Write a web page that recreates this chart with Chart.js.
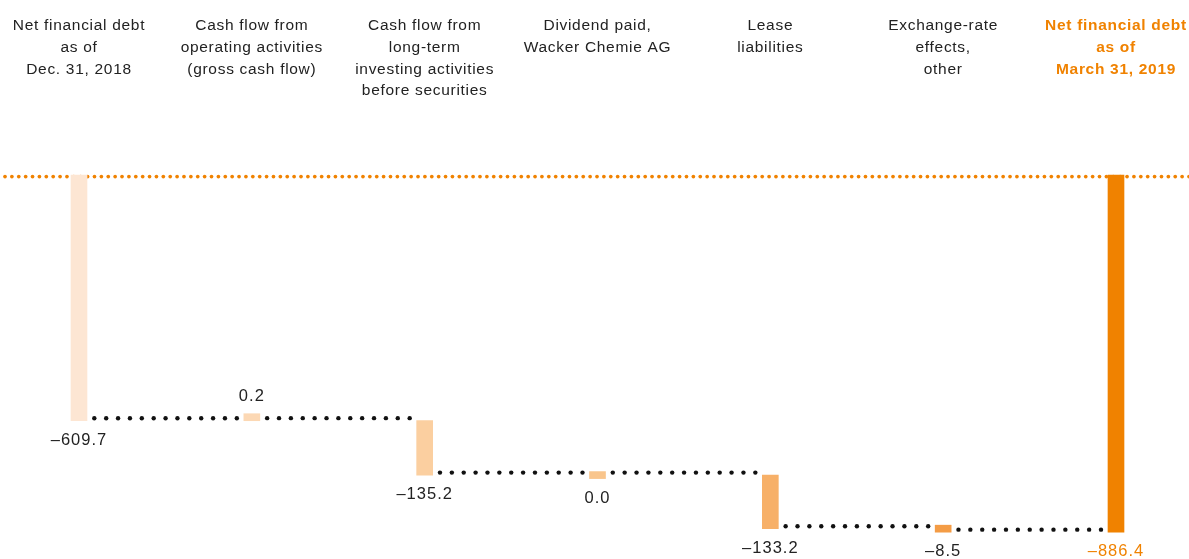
<!DOCTYPE html>
<html>
<head>
<meta charset="utf-8">
<script src="https://cdn.jsdelivr.net/npm/chart.js@4/dist/chart.umd.min.js"></script>
<style>
  html, body { margin: 0; padding: 0; background: #fff; }
</style>
</head>
<body>
<canvas data-grafico width="1189" height="559"></canvas>
<script>
// categories (header labels, one array per column)
const categories = [
  ['Net financial debt', 'as of', 'Dec. 31, 2018'],
  ['Cash flow from', 'operating activities', '(gross cash flow)'],
  ['Cash flow from', 'long-term', 'investing activities', 'before securities'],
  ['Dividend paid,', 'Wacker Chemie AG'],
  ['Lease', 'liabilities'],
  ['Exchange-rate', 'effects,', 'other'],
  ['Net financial debt', 'as of', 'March 31, 2019']
];

// € million, totals start at zero, the others are changes
const values = [-609.7, 0.2, -135.2, 0.0, -133.2, -8.5, -886.4];
const isTotal = [true, false, false, false, false, false, true];

const barColors = ['#fde6d3', '#fcd8b4', '#fbcfa0', '#f9c58c', '#f7b068', '#f49c45', '#f08200'];
const orange = '#f08200';
const textColor = '#222222';

// waterfall: each bar goes from its lower end (base) up to its upper end
const bases = [];
const tops = [];
const levels = [];
let running = 0;
values.forEach((v, i) => {
  const start = isTotal[i] ? 0 : running;
  const end = isTotal[i] ? v : running + v;
  bases.push(Math.min(start, end));
  tops.push(Math.max(start, end));
  running = end;
  levels.push(running);
});

function dotRow(ctx, x0, x1, y, step, size, color) {
  const n = Math.max(1, Math.round((x1 - x0) / step));
  const s = (x1 - x0) / n;
  ctx.fillStyle = color;
  for (let i = 0; i <= n; i++) {
    ctx.beginPath();
    ctx.arc(x0 + i * s, y, size / 2, 0, Math.PI * 2);
    ctx.fill();
  }
}

// the bar of column i lives in dataset i
function barAt(chart, i) {
  return chart.getDatasetMeta(i).data[i];
}

const spacing = {
  id: 'spacing',
  beforeUpdate(chart) { chart.ctx.letterSpacing = '0.7px'; },
  beforeDraw(chart) { chart.ctx.letterSpacing = '0.7px'; }
};

// orange dotted zero line behind the bars
const zeroLine = {
  id: 'zeroLine',
  beforeDatasetsDraw(chart) {
    const ctx = chart.ctx;
    const y = chart.scales.y.getPixelForValue(0) + 1.5;
    ctx.save();
    dotRow(ctx, 5, chart.width, y, 6.9, 3.7, orange);
    ctx.restore();
  }
};

// black dotted connectors + value labels
const connectors = {
  id: 'connectors',
  afterDatasetsDraw(chart) {
    const ctx = chart.ctx;
    const yScale = chart.scales.y;
    ctx.save();
    for (let i = 0; i < values.length - 1; i++) {
      const a = barAt(chart, i), b = barAt(chart, i + 1);
      const x0 = a.x + a.width / 2 + 7.3;
      const x1 = b.x - b.width / 2 - 7;
      const y = yScale.getPixelForValue(levels[i]) - 2.5;
      dotRow(ctx, x0, x1, y, 12.2, 4.4, '#111111');
    }

    ctx.letterSpacing = '1px';
    ctx.font = '16.5px "Liberation Sans", Arial, sans-serif';
    ctx.textAlign = 'center';
    ctx.textBaseline = 'middle';
    values.forEach((v, i) => {
      const bar = barAt(chart, i);
      const top = Math.min(bar.y, bar.base);
      const bottom = Math.max(bar.y, bar.base);
      const texto = v.toFixed(1).replace('-', '\u2013');
      ctx.fillStyle = i === values.length - 1 ? orange : textColor;
      if (v > 0) {
        ctx.fillText(texto, bar.x, top - 17);
      } else {
        ctx.fillText(texto, bar.x, bottom + 19.5);
      }
    });
    ctx.restore();
  }
};

const grafico = new Chart(document.querySelector('[data-grafico]'), {
  type: 'bar',
  data: {
    labels: categories,
    datasets: values.map((v, i) => ({
      data: categories.map((c, j) => j === i ? tops[i] : null),
      base: bases[i],
      backgroundColor: barColors[i],
      grouped: false,
      barThickness: 16,
      minBarLength: 7,
      clip: false
    }))
  },
  options: {
    responsive: false,
    animation: false,
    layout: { padding: { top: 15, left: 79, right: 73, bottom: 0 } },
    plugins: { legend: { display: false }, tooltip: { enabled: false } },
    scales: {
      x: {
        position: 'top',
        offset: false,
        grid: { display: false, drawTicks: false },
        border: { display: false },
        ticks: {
          autoSkip: false,
          maxRotation: 0,
          minRotation: 0,
          padding: 0,
          crossAlign: 'far',
          color: c => c.index === 6 ? orange : textColor,
          font: c => ({
            family: '"Liberation Sans", Arial, sans-serif',
            size: 15.5,
            weight: c.index === 6 ? 'bold' : 'normal',
            lineHeight: 1.4
          })
        }
      },
      y: { display: false, min: -953, max: 182 }
    }
  },
  plugins: [spacing, zeroLine, connectors]
});
</script>
</body>
</html>
